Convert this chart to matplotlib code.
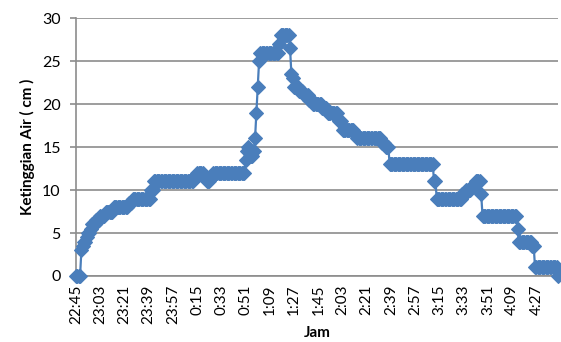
import numpy as np
import matplotlib.pyplot as plt

# water level readings, one per minute starting 22:45, stored as runs
levels = [0, 3, 3.5, 4, 4.5, 5, 5.5, 6, 6.5, 7, 7.5, 8, 8.5, 9, 10, 11,
          11.5, 12, 11.5, 11, 11.5, 12, 13.5, 14.5, 15, 14, 14.5, 16, 19,
          22, 25, 26, 27, 28, 26.5, 23.5, 23, 22, 21.5, 21, 20.5, 20, 19.5,
          19, 18, 17, 16.5, 16, 15.5, 15, 13, 11, 9, 9.5, 10, 10.5, 11, 9.5,
          7, 5.5, 4, 3.5, 1, 0]
counts = [4, 1, 1, 2, 1, 2, 1, 3, 3, 4, 6, 11, 3, 14, 2, 30,
          2, 5, 2, 3, 2, 24, 1, 1, 1, 3, 1, 1, 1,
          1, 1, 14, 1, 7, 1, 1, 1, 4, 3, 4, 3, 7, 4,
          8, 3, 9, 2, 18, 3, 3, 33, 2, 19, 3, 4, 3, 4, 1,
          26, 1, 10, 2, 17, 1]

tick_labels = ["22:45", "23:03", "23:21", "23:39", "23:57", "0:15", "0:33",
               "0:51", "1:09", "1:27", "1:45", "2:03", "2:21", "2:39", "2:57",
               "3:15", "3:33", "3:51", "4:09", "4:27"]
tick_step = 18

air = np.repeat(levels, counts)
menit = np.arange(len(air))

plt.rcParams['font.family'] = ['Lato', 'DejaVu Sans']

fig = plt.figure(figsize=(5.61, 3.42), dpi=100)
ax = fig.add_axes([0.1355, 0.193, 0.859, 0.754])

blue = "#4A7EBB"
grey = "#8C8C8C"
ax.plot(menit, air, color=blue, lw=1.6, marker="D", ms=6.8,
        mfc=blue, mec=blue, mew=0.8, clip_on=False, zorder=3)

ax.set_xlim(0, len(air) - 1)
ax.set_ylim(0, 30)
ax.set_yticks(np.arange(0, 31, 5))
ax.set_xticks(np.arange(len(tick_labels)) * tick_step)
ax.set_xticklabels(tick_labels, rotation=90, fontsize=11)
ax.tick_params(axis="y", labelsize=11.5, length=4, color=grey, width=1.2, pad=7)
ax.tick_params(axis="x", length=0, pad=6)

ax.grid(True, axis="y", color=grey, lw=1.2)
ax.set_axisbelow(True)
for s in ["top", "right"]:
    ax.spines[s].set_visible(False)
for s in ["left", "bottom"]:
    ax.spines[s].set_color(grey)
    ax.spines[s].set_linewidth(1.2)

ax.set_ylabel("Ketinggian Air ( cm )", fontsize=11, fontweight="bold", labelpad=5)
ax.set_xlabel("Jam", fontsize=11, fontweight="bold", labelpad=2)

fig.savefig("out.png", dpi=100)
